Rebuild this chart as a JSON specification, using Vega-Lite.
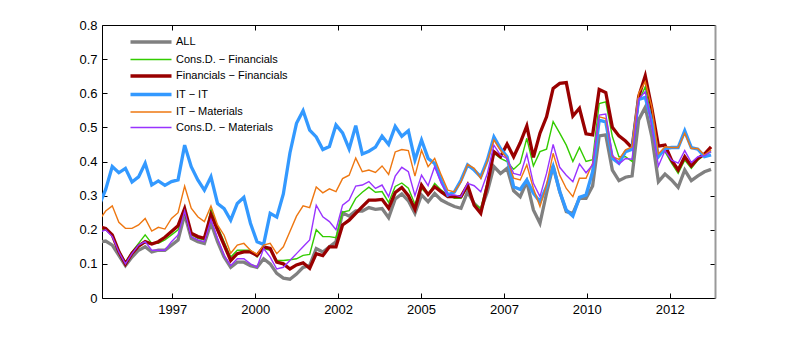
{
  "$schema": "https://vega.github.io/schema/vega-lite/v6.json",
  "width": 613,
  "height": 273,
  "autosize": {"type": "none"},
  "padding": {"left": 102, "top": 25, "right": 74, "bottom": 44},
  "background": "white",
  "config": {
    "view": {"stroke": null},
    "font": "Liberation Sans",
    "axis": {
      "grid": false,
      "domain": true,
      "domainColor": "black",
      "domainWidth": 1,
      "tickColor": "black",
      "tickWidth": 1,
      "tickSize": -5,
      "labelPadding": 10,
      "labelColor": "black",
      "labelFont": "Liberation Sans",
      "labelFontSize": 13,
      "labelFlush": false,
      "title": null
    }
  },
  "data": {
    "values": [
      {"t": 1995.3, "all": 0.164, "cdf": 0.2, "ff": 0.209, "it": 0.271, "itm": 0.227, "cdm": 0.192},
      {"t": 1995.5, "all": 0.167, "cdf": 0.2, "ff": 0.204, "it": 0.318, "itm": 0.255, "cdm": 0.2},
      {"t": 1995.7, "all": 0.155, "cdf": 0.185, "ff": 0.185, "it": 0.385, "itm": 0.27, "cdm": 0.18},
      {"t": 1995.9, "all": 0.125, "cdf": 0.14, "ff": 0.136, "it": 0.367, "itm": 0.222, "cdm": 0.135},
      {"t": 1996.1, "all": 0.095, "cdf": 0.105, "ff": 0.1, "it": 0.38, "itm": 0.204, "cdm": 0.1},
      {"t": 1996.3, "all": 0.12, "cdf": 0.135, "ff": 0.131, "it": 0.34, "itm": 0.204, "cdm": 0.13},
      {"t": 1996.5, "all": 0.14, "cdf": 0.16, "ff": 0.152, "it": 0.355, "itm": 0.214, "cdm": 0.155},
      {"t": 1996.7, "all": 0.15, "cdf": 0.185, "ff": 0.165, "it": 0.395, "itm": 0.233, "cdm": 0.165},
      {"t": 1996.9, "all": 0.135, "cdf": 0.16, "ff": 0.158, "it": 0.331, "itm": 0.196, "cdm": 0.14},
      {"t": 1997.1, "all": 0.14, "cdf": 0.16, "ff": 0.165, "it": 0.343, "itm": 0.207, "cdm": 0.14},
      {"t": 1997.3, "all": 0.14, "cdf": 0.17, "ff": 0.178, "it": 0.33, "itm": 0.202, "cdm": 0.14},
      {"t": 1997.5, "all": 0.155, "cdf": 0.185, "ff": 0.195, "it": 0.341, "itm": 0.233, "cdm": 0.165},
      {"t": 1997.7, "all": 0.17, "cdf": 0.2, "ff": 0.212, "it": 0.346, "itm": 0.25, "cdm": 0.185},
      {"t": 1997.9, "all": 0.245, "cdf": 0.25, "ff": 0.262, "it": 0.448, "itm": 0.328, "cdm": 0.255},
      {"t": 1998.1, "all": 0.175, "cdf": 0.185, "ff": 0.19, "it": 0.385, "itm": 0.263, "cdm": 0.18},
      {"t": 1998.3, "all": 0.165, "cdf": 0.175, "ff": 0.18, "it": 0.346, "itm": 0.238, "cdm": 0.17},
      {"t": 1998.5, "all": 0.16, "cdf": 0.17, "ff": 0.175, "it": 0.316, "itm": 0.224, "cdm": 0.165},
      {"t": 1998.7, "all": 0.22, "cdf": 0.26, "ff": 0.245, "it": 0.355, "itm": 0.27, "cdm": 0.23},
      {"t": 1998.9, "all": 0.165, "cdf": 0.21, "ff": 0.2, "it": 0.277, "itm": 0.214, "cdm": 0.175},
      {"t": 1999.1, "all": 0.12, "cdf": 0.165, "ff": 0.155, "it": 0.262, "itm": 0.184, "cdm": 0.125},
      {"t": 1999.3, "all": 0.09, "cdf": 0.12, "ff": 0.11, "it": 0.228, "itm": 0.131, "cdm": 0.095},
      {"t": 1999.5, "all": 0.105, "cdf": 0.14, "ff": 0.13, "it": 0.277, "itm": 0.155, "cdm": 0.115},
      {"t": 1999.7, "all": 0.105, "cdf": 0.14, "ff": 0.135, "it": 0.295, "itm": 0.16, "cdm": 0.115},
      {"t": 1999.9, "all": 0.095, "cdf": 0.14, "ff": 0.135, "it": 0.219, "itm": 0.14, "cdm": 0.1},
      {"t": 2000.1, "all": 0.09, "cdf": 0.12, "ff": 0.125, "it": 0.165, "itm": 0.128, "cdm": 0.09},
      {"t": 2000.3, "all": 0.115, "cdf": 0.145, "ff": 0.15, "it": 0.157, "itm": 0.155, "cdm": 0.145},
      {"t": 2000.5, "all": 0.1, "cdf": 0.14, "ff": 0.145, "it": 0.248, "itm": 0.16, "cdm": 0.12},
      {"t": 2000.7, "all": 0.072, "cdf": 0.11, "ff": 0.105, "it": 0.237, "itm": 0.13, "cdm": 0.085},
      {"t": 2000.9, "all": 0.058, "cdf": 0.11, "ff": 0.1, "it": 0.305, "itm": 0.15, "cdm": 0.09},
      {"t": 2001.1, "all": 0.055, "cdf": 0.112, "ff": 0.085, "it": 0.425, "itm": 0.195, "cdm": 0.11},
      {"t": 2001.3, "all": 0.07, "cdf": 0.115, "ff": 0.097, "it": 0.512, "itm": 0.24, "cdm": 0.13},
      {"t": 2001.5, "all": 0.09, "cdf": 0.125, "ff": 0.103, "it": 0.549, "itm": 0.27, "cdm": 0.15},
      {"t": 2001.7, "all": 0.095, "cdf": 0.128, "ff": 0.087, "it": 0.492, "itm": 0.265, "cdm": 0.17},
      {"t": 2001.9, "all": 0.145, "cdf": 0.2, "ff": 0.13, "it": 0.472, "itm": 0.325, "cdm": 0.272},
      {"t": 2002.1, "all": 0.135, "cdf": 0.18, "ff": 0.124, "it": 0.435, "itm": 0.308, "cdm": 0.238},
      {"t": 2002.3, "all": 0.15, "cdf": 0.18, "ff": 0.15, "it": 0.444, "itm": 0.32, "cdm": 0.224},
      {"t": 2002.5, "all": 0.165, "cdf": 0.177, "ff": 0.15, "it": 0.507, "itm": 0.312, "cdm": 0.2},
      {"t": 2002.7, "all": 0.25, "cdf": 0.252, "ff": 0.214, "it": 0.484, "itm": 0.35, "cdm": 0.272},
      {"t": 2002.9, "all": 0.24, "cdf": 0.256, "ff": 0.228, "it": 0.437, "itm": 0.36, "cdm": 0.287},
      {"t": 2003.1, "all": 0.255, "cdf": 0.292, "ff": 0.248, "it": 0.505, "itm": 0.41, "cdm": 0.328},
      {"t": 2003.3, "all": 0.255, "cdf": 0.31, "ff": 0.268, "it": 0.422, "itm": 0.37, "cdm": 0.331},
      {"t": 2003.5, "all": 0.265, "cdf": 0.325, "ff": 0.287, "it": 0.43, "itm": 0.375, "cdm": 0.341},
      {"t": 2003.7, "all": 0.26, "cdf": 0.31, "ff": 0.287, "it": 0.442, "itm": 0.368, "cdm": 0.321},
      {"t": 2003.9, "all": 0.262, "cdf": 0.312, "ff": 0.289, "it": 0.474, "itm": 0.387, "cdm": 0.331},
      {"t": 2004.1, "all": 0.235, "cdf": 0.28, "ff": 0.263, "it": 0.45, "itm": 0.362, "cdm": 0.297},
      {"t": 2004.3, "all": 0.29, "cdf": 0.327, "ff": 0.309, "it": 0.503, "itm": 0.428, "cdm": 0.357},
      {"t": 2004.5, "all": 0.305, "cdf": 0.337, "ff": 0.324, "it": 0.474, "itm": 0.435, "cdm": 0.383},
      {"t": 2004.7, "all": 0.285, "cdf": 0.322, "ff": 0.3, "it": 0.49, "itm": 0.432, "cdm": 0.37},
      {"t": 2004.9, "all": 0.248, "cdf": 0.275, "ff": 0.26, "it": 0.404, "itm": 0.357, "cdm": 0.3},
      {"t": 2005.1, "all": 0.302, "cdf": 0.321, "ff": 0.331, "it": 0.463, "itm": 0.433, "cdm": 0.36},
      {"t": 2005.3, "all": 0.282, "cdf": 0.302, "ff": 0.303, "it": 0.409, "itm": 0.385, "cdm": 0.329},
      {"t": 2005.5, "all": 0.306, "cdf": 0.336, "ff": 0.326, "it": 0.394, "itm": 0.409, "cdm": 0.385},
      {"t": 2005.7, "all": 0.287, "cdf": 0.316, "ff": 0.311, "it": 0.345, "itm": 0.36, "cdm": 0.336},
      {"t": 2005.9, "all": 0.277, "cdf": 0.302, "ff": 0.297, "it": 0.302, "itm": 0.316, "cdm": 0.302},
      {"t": 2006.1, "all": 0.268, "cdf": 0.292, "ff": 0.297, "it": 0.311, "itm": 0.311, "cdm": 0.302},
      {"t": 2006.3, "all": 0.263, "cdf": 0.292, "ff": 0.297, "it": 0.345, "itm": 0.34, "cdm": 0.297},
      {"t": 2006.5, "all": 0.311, "cdf": 0.326, "ff": 0.331, "it": 0.39, "itm": 0.391, "cdm": 0.336},
      {"t": 2006.7, "all": 0.277, "cdf": 0.277, "ff": 0.272, "it": 0.375, "itm": 0.38, "cdm": 0.329},
      {"t": 2006.9, "all": 0.258, "cdf": 0.262, "ff": 0.248, "it": 0.355, "itm": 0.35, "cdm": 0.311},
      {"t": 2007.1, "all": 0.311, "cdf": 0.341, "ff": 0.331, "it": 0.404, "itm": 0.4, "cdm": 0.365},
      {"t": 2007.3, "all": 0.385, "cdf": 0.424, "ff": 0.429, "it": 0.472, "itm": 0.463, "cdm": 0.448},
      {"t": 2007.5, "all": 0.365, "cdf": 0.409, "ff": 0.414, "it": 0.438, "itm": 0.433, "cdm": 0.419},
      {"t": 2007.7, "all": 0.38, "cdf": 0.4, "ff": 0.451, "it": 0.414, "itm": 0.409, "cdm": 0.409},
      {"t": 2007.9, "all": 0.314, "cdf": 0.377, "ff": 0.414, "it": 0.326, "itm": 0.351, "cdm": 0.365},
      {"t": 2008.1, "all": 0.297, "cdf": 0.395, "ff": 0.455, "it": 0.318, "itm": 0.346, "cdm": 0.36},
      {"t": 2008.3, "all": 0.341, "cdf": 0.468, "ff": 0.504, "it": 0.346, "itm": 0.39, "cdm": 0.422},
      {"t": 2008.5, "all": 0.258, "cdf": 0.387, "ff": 0.412, "it": 0.307, "itm": 0.321, "cdm": 0.336},
      {"t": 2008.7, "all": 0.219, "cdf": 0.429, "ff": 0.483, "it": 0.282, "itm": 0.268, "cdm": 0.297},
      {"t": 2008.9, "all": 0.307, "cdf": 0.436, "ff": 0.531, "it": 0.326, "itm": 0.331, "cdm": 0.365},
      {"t": 2009.1, "all": 0.387, "cdf": 0.517, "ff": 0.614, "it": 0.385, "itm": 0.424, "cdm": 0.45},
      {"t": 2009.3, "all": 0.312, "cdf": 0.483, "ff": 0.629, "it": 0.312, "itm": 0.36, "cdm": 0.383},
      {"t": 2009.5, "all": 0.253, "cdf": 0.448, "ff": 0.631, "it": 0.258, "itm": 0.321, "cdm": 0.36},
      {"t": 2009.7, "all": 0.248, "cdf": 0.4, "ff": 0.533, "it": 0.24, "itm": 0.297, "cdm": 0.341},
      {"t": 2009.9, "all": 0.292, "cdf": 0.441, "ff": 0.556, "it": 0.295, "itm": 0.351, "cdm": 0.393},
      {"t": 2010.1, "all": 0.292, "cdf": 0.4, "ff": 0.481, "it": 0.302, "itm": 0.351, "cdm": 0.367},
      {"t": 2010.3, "all": 0.328, "cdf": 0.405, "ff": 0.478, "it": 0.37, "itm": 0.395, "cdm": 0.39},
      {"t": 2010.5, "all": 0.475, "cdf": 0.57, "ff": 0.611, "it": 0.521, "itm": 0.531, "cdm": 0.536},
      {"t": 2010.7, "all": 0.478, "cdf": 0.575, "ff": 0.602, "it": 0.516, "itm": 0.526, "cdm": 0.539},
      {"t": 2010.9, "all": 0.375, "cdf": 0.473, "ff": 0.5, "it": 0.409, "itm": 0.414, "cdm": 0.419},
      {"t": 2011.1, "all": 0.344, "cdf": 0.414, "ff": 0.475, "it": 0.395, "itm": 0.406, "cdm": 0.393},
      {"t": 2011.3, "all": 0.354, "cdf": 0.414, "ff": 0.46, "it": 0.429, "itm": 0.434, "cdm": 0.409},
      {"t": 2011.5, "all": 0.358, "cdf": 0.4, "ff": 0.44, "it": 0.436, "itm": 0.443, "cdm": 0.407},
      {"t": 2011.7, "all": 0.522, "cdf": 0.575, "ff": 0.59, "it": 0.582, "itm": 0.6, "cdm": 0.582},
      {"t": 2011.9, "all": 0.559, "cdf": 0.619, "ff": 0.651, "it": 0.588, "itm": 0.634, "cdm": 0.605},
      {"t": 2012.1, "all": 0.473, "cdf": 0.522, "ff": 0.556, "it": 0.517, "itm": 0.56, "cdm": 0.502},
      {"t": 2012.3, "all": 0.341, "cdf": 0.424, "ff": 0.445, "it": 0.414, "itm": 0.422, "cdm": 0.387},
      {"t": 2012.5, "all": 0.363, "cdf": 0.429, "ff": 0.448, "it": 0.438, "itm": 0.443, "cdm": 0.432},
      {"t": 2012.7, "all": 0.346, "cdf": 0.395, "ff": 0.404, "it": 0.441, "itm": 0.441, "cdm": 0.404},
      {"t": 2012.9, "all": 0.324, "cdf": 0.365, "ff": 0.375, "it": 0.441, "itm": 0.441, "cdm": 0.395},
      {"t": 2013.1, "all": 0.375, "cdf": 0.404, "ff": 0.414, "it": 0.49, "itm": 0.483, "cdm": 0.432},
      {"t": 2013.3, "all": 0.344, "cdf": 0.38, "ff": 0.387, "it": 0.441, "itm": 0.438, "cdm": 0.397},
      {"t": 2013.5, "all": 0.358, "cdf": 0.404, "ff": 0.409, "it": 0.436, "itm": 0.438, "cdm": 0.414},
      {"t": 2013.7, "all": 0.37, "cdf": 0.419, "ff": 0.422, "it": 0.414, "itm": 0.419, "cdm": 0.417},
      {"t": 2013.9, "all": 0.377, "cdf": 0.429, "ff": 0.443, "it": 0.419, "itm": 0.434, "cdm": 0.429}
    ]
  },
  "transform": [
    {"fold": ["all", "cdf", "ff", "it", "itm", "cdm"], "as": ["s", "v"]}
  ],
  "resolve": {"axis": {"x": "independent", "y": "independent"}},
  "layer": [
    {
      "mark": {"type": "line", "clip": true},
      "encoding": {
        "x": {
          "field": "t",
          "type": "quantitative",
          "scale": {"domain": [1995.388, 2014.02], "nice": false, "zero": false},
          "axis": {
            "orient": "bottom",
            "values": [1997.525, 2000.045, 2002.564, 2005.084, 2007.604, 2010.124, 2012.643],
            "labelExpr": "floor(datum.value)"
          }
        },
        "y": {
          "field": "v",
          "type": "quantitative",
          "scale": {"domain": [0, 0.8], "nice": false},
          "axis": {
            "orient": "left",
            "values": [0, 0.1, 0.2, 0.3, 0.4, 0.5, 0.6, 0.7, 0.8],
            "format": ".1~f"
          }
        },
        "color": {
          "field": "s",
          "type": "nominal",
          "sort": ["all", "cdf", "ff", "it", "itm", "cdm"],
          "scale": {
            "domain": ["all", "cdf", "ff", "it", "itm", "cdm"],
            "range": ["#808080", "#33cc00", "#990000", "#3399ff", "#ee7711", "#9933ff"]
          },
          "legend": {
            "orient": "none",
            "legendX": 43.5,
            "legendY": 11.5,
            "title": null,
            "padding": 0,
            "symbolType": "M-4.1,0H4.1",
            "symbolSize": 100,
            "labelFont": "Liberation Sans",
            "labelFontSize": 11,
            "labelColor": "black",
            "labelOffset": 19.5,
            "rowPadding": 3.5,
            "labelExpr": "datum.label == 'all' ? 'ALL' : datum.label == 'cdf' ? 'Cons.D. − Financials' : datum.label == 'ff' ? 'Financials − Financials' : datum.label == 'it' ? 'IT − IT' : datum.label == 'itm' ? 'IT − Materials' : 'Cons.D. − Materials'",
            "encode": {
              "symbols": {
                "update": {
                  "strokeWidth": {"signal": "indexof(['all','ff','it'], datum.value) >= 0 ? 3.3 : 1.4"}
                }
              }
            }
          }
        },
        "strokeWidth": {
          "condition": {"test": "indexof(['all','ff','it'], datum.s) >= 0", "value": 3.3},
          "value": 1.4
        }
      }
    },
    {
      "mark": {"type": "line", "opacity": 0},
      "encoding": {
        "x": {
          "field": "t",
          "type": "quantitative",
          "axis": {
            "orient": "top",
            "labels": false,
            "values": [1997.525, 2000.045, 2002.564, 2005.084, 2007.604, 2010.124, 2012.643]
          }
        },
        "y": {
          "field": "v",
          "type": "quantitative",
          "axis": {
            "orient": "right",
            "labels": false,
            "domainColor": "#999999",
            "domainWidth": 2,
            "values": [0, 0.1, 0.2, 0.3, 0.4, 0.5, 0.6, 0.7, 0.8]
          }
        },
        "detail": {"field": "s"}
      }
    }
  ]
}
